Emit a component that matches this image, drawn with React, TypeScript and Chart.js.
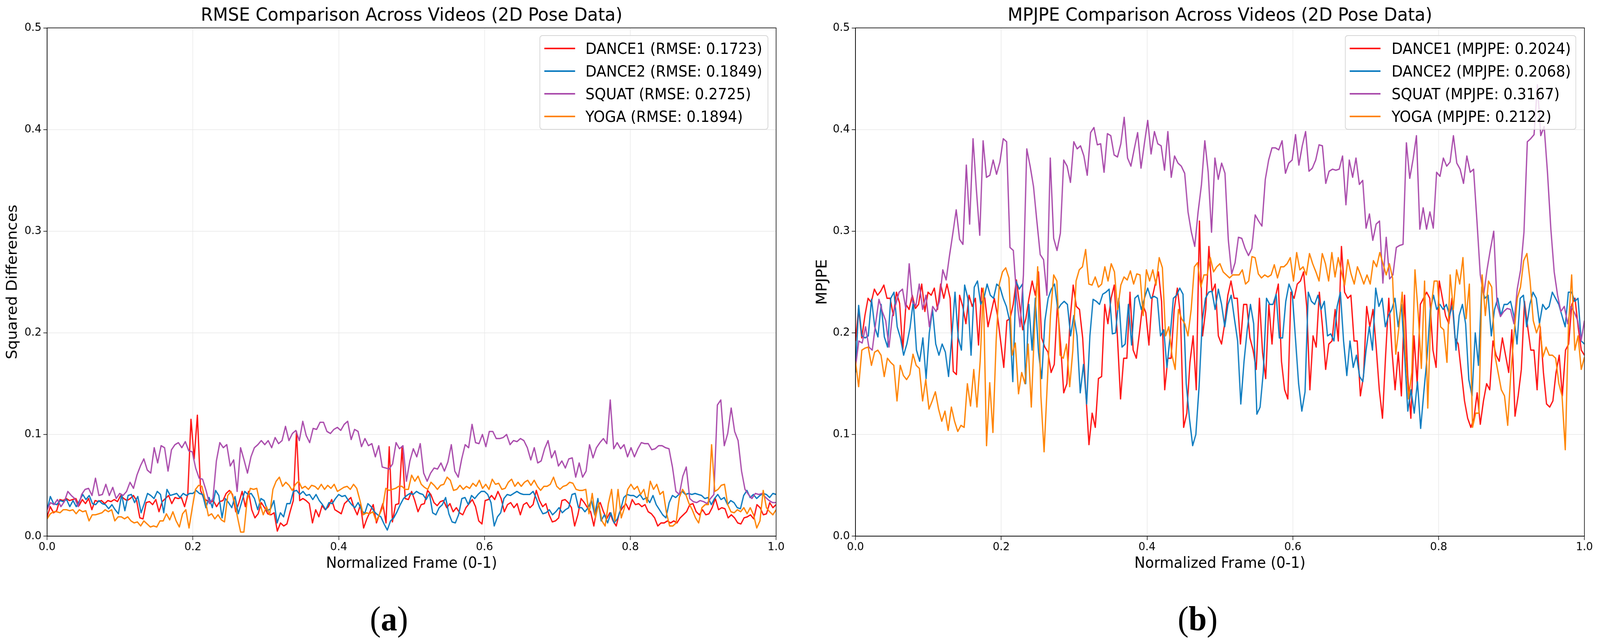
import { useEffect, useRef } from "react"
import { Chart, registerables, type Plugin } from "chart.js"

Chart.register(...registerables)

const FONT = '"DejaVu Sans", sans-serif'

const SERIES_NAMES = ["DANCE1", "DANCE2", "SQUAT", "YOGA"]
const SERIES_COLORS = ["#ff1010", "#0a7abf", "#a94aab", "#ff8200"]
const RMSE_SCORES = [0.1723, 0.1849, 0.2725, 0.1894]
const MPJPE_SCORES = [0.2024, 0.2068, 0.3167, 0.2122]

// (a) RMSE, squared differences per normalized frame
const RMSE_DANCE1 = [
  0.019,0.029,0.023,0.025,0.036,0.035,0.037,0.035,0.036,0.037,
  0.030,0.036,0.032,0.037,0.026,0.035,0.034,0.035,0.032,0.035,
  0.034,0.036,0.034,0.040,0.037,0.035,0.037,0.040,0.035,0.018,
  0.017,0.033,0.034,0.031,0.036,0.024,0.034,0.037,0.040,0.032,
  0.038,0.037,0.038,0.029,0.041,0.115,0.076,0.119,0.045,0.037,
  0.035,0.033,0.035,0.029,0.034,0.035,0.042,0.045,0.041,0.024,
  0.033,0.044,0.029,0.044,0.026,0.018,0.022,0.033,0.028,0.022,
  0.021,0.023,0.005,0.013,0.010,0.012,0.024,0.035,0.103,0.035,
  0.037,0.035,0.032,0.013,0.026,0.019,0.030,0.026,0.029,0.036,
  0.026,0.024,0.022,0.032,0.035,0.038,0.028,0.021,0.031,0.008,
  0.017,0.024,0.031,0.013,0.022,0.032,0.013,0.088,0.014,0.031,
  0.032,0.087,0.037,0.036,0.044,
  0.035,0.024,0.031,0.032,0.045,0.041,0.033,0.030,0.034,0.035,
  0.028,0.032,0.024,0.028,0.023,0.021,0.028,0.032,0.036,0.029,
  0.015,0.012,0.035,0.036,0.040,0.036,0.044,0.037,0.024,0.031,
  0.033,0.028,0.032,0.021,0.031,0.033,0.028,0.031,0.045,0.035,
  0.029,0.032,0.021,0.014,0.015,0.018,0.035,0.036,0.033,0.028,
  0.010,0.021,0.037,0.033,0.028,0.024,0.010,0.028,0.033,0.024,
  0.017,0.023,0.015,0.010,0.023,0.028,0.032,0.026,0.036,0.031,
  0.032,0.029,0.031,0.024,0.022,0.018,0.010,0.013,0.013,0.015,
  0.013,0.015,0.013,0.018,0.021,0.024,0.031,0.032,0.024,0.021,
  0.026,0.021,0.022,0.028,0.037,0.026,0.028,0.027,0.018,0.021,
  0.018,0.013,0.012,0.018,0.019,0.021,0.017,0.031,0.028,0.021,
  0.022,0.033,0.028,0.031,
]
const RMSE_DANCE2 = [
  0.026,0.039,0.032,0.031,0.035,0.034,0.036,0.029,0.035,0.029,
  0.035,0.041,0.036,0.040,0.032,0.031,0.035,0.032,0.031,0.027,
  0.031,0.026,0.022,0.041,0.025,0.040,0.041,0.033,0.039,0.023,
  0.032,0.042,0.040,0.037,0.044,0.041,0.023,0.046,0.040,0.041,
  0.042,0.038,0.042,0.040,0.042,0.042,0.045,0.042,0.041,0.028,
  0.038,0.028,0.045,0.040,0.018,0.037,0.033,0.028,0.039,0.022,
  0.033,0.044,0.041,0.042,0.037,0.026,0.037,0.035,0.025,0.027,
  0.035,0.013,0.023,0.019,0.032,0.032,0.044,0.045,0.041,0.044,
  0.040,0.041,0.036,0.041,0.035,0.031,0.026,0.033,0.032,0.037,
  0.041,0.039,0.040,0.035,0.031,0.028,0.033,0.026,0.022,0.032,
  0.029,0.024,0.021,0.019,0.012,0.006,0.015,0.018,0.024,0.031,
  0.037,0.040,
  0.042,0.041,0.044,0.042,0.041,0.036,0.042,0.023,0.021,0.028,
  0.031,0.038,0.022,0.014,0.013,0.021,0.037,0.038,0.031,0.040,
  0.037,0.041,0.044,0.044,0.041,0.033,0.010,0.019,0.023,0.037,
  0.041,0.040,0.042,0.044,0.042,0.041,0.041,0.041,0.044,0.037,
  0.028,0.022,0.023,0.026,0.021,0.024,0.028,0.023,0.026,0.028,
  0.041,0.042,0.028,0.028,0.024,0.028,0.035,0.021,0.037,0.015,
  0.021,0.013,0.023,0.013,0.017,0.026,0.038,0.041,0.040,0.040,
  0.038,0.041,0.036,0.038,0.033,0.040,0.031,0.026,0.021,0.018,
  0.033,0.040,0.038,0.041,0.044,0.041,0.042,0.041,0.042,0.041,
  0.040,0.037,0.038,0.031,0.037,0.041,0.036,0.038,0.031,0.035,
  0.033,0.028,0.027,0.040,0.045,0.038,0.041,0.037,0.040,0.042,
  0.041,0.038,0.042,0.041,
]
const RMSE_SQUAT = [
  0.026,0.033,0.031,0.036,0.029,0.034,0.044,0.040,0.037,0.029,
  0.041,0.046,0.047,0.040,0.057,0.040,0.041,0.051,0.040,0.048,
  0.037,0.042,0.040,0.044,0.053,0.047,0.060,0.069,0.076,0.065,
  0.062,0.087,0.072,0.089,0.087,0.064,0.085,0.090,0.092,0.087,
  0.093,0.084,0.083,0.067,0.057,0.056,0.045,0.032,0.037,0.074,
  0.092,0.087,0.090,0.069,0.075,0.044,0.087,0.075,0.062,0.078,
  0.087,0.090,0.094,0.090,0.094,0.087,0.097,0.091,0.094,0.108,
  0.094,0.101,0.104,0.094,0.113,0.099,0.092,0.106,0.105,0.112,
  0.112,0.103,0.101,0.105,0.107,0.104,0.110,0.113,0.095,0.105,
  0.103,0.088,0.096,0.089,0.091,0.078,0.089,0.068,0.067,0.066,
  0.071,0.092,0.086,0.089,
  0.054,0.074,0.086,0.078,0.091,0.062,0.054,0.062,0.067,0.066,
  0.072,0.064,0.073,0.090,0.064,0.058,0.076,0.090,0.087,0.110,
  0.092,0.091,0.100,0.088,0.103,0.103,0.096,0.096,0.097,0.100,
  0.090,0.094,0.093,0.096,0.094,0.087,0.075,0.087,0.072,0.074,
  0.086,0.094,0.077,0.084,0.069,0.074,0.067,0.076,0.077,0.058,
  0.072,0.058,0.064,0.090,0.077,0.087,0.092,0.096,0.091,0.134,
  0.086,0.092,0.086,0.090,0.078,0.087,0.078,0.086,0.092,0.091,
  0.091,0.085,0.086,0.089,0.089,0.087,0.086,0.068,0.044,0.041,
  0.059,0.068,0.037,0.034,0.033,0.035,0.034,0.032,0.037,0.041,
  0.129,0.134,0.089,0.101,0.126,0.103,0.094,0.064,0.046,0.041,
  0.037,0.042,0.041,0.042,0.038,0.035,0.033,0.033,
]
const RMSE_YOGA = [
  0.017,0.022,0.024,0.024,0.023,0.026,0.026,0.025,0.026,0.022,
  0.026,0.024,0.025,0.015,0.021,0.021,0.022,0.023,0.026,0.024,
  0.026,0.015,0.019,0.019,0.017,0.019,0.015,0.013,0.014,0.010,
  0.015,0.012,0.009,0.010,0.009,0.015,0.015,0.022,0.016,0.024,
  0.015,0.009,0.022,0.026,0.008,0.028,0.046,0.050,0.049,0.036,
  0.020,0.022,0.017,0.021,0.016,0.014,0.040,0.044,0.035,0.019,
  0.004,0.004,0.035,0.047,0.046,0.047,0.032,0.021,0.029,0.021,
  0.046,0.054,0.058,0.049,0.053,0.050,0.045,0.051,0.054,0.047,
  0.049,0.046,0.050,0.049,0.046,0.051,0.046,0.050,0.047,0.051,
  0.044,0.046,0.048,0.049,0.046,0.051,0.047,0.035,0.021,0.023,
  0.022,0.024,0.015,0.021,0.028,0.047,0.045,0.046,0.047,0.049,
  0.049,0.046,0.046,
  0.060,0.054,0.059,0.051,0.048,0.046,0.053,0.050,0.046,0.050,
  0.051,0.058,0.055,0.045,0.046,0.050,0.046,0.049,0.047,0.052,
  0.049,0.055,0.047,0.051,0.046,0.056,0.051,0.052,0.046,0.047,
  0.053,0.056,0.049,0.053,0.049,0.053,0.055,0.050,0.055,0.049,
  0.045,0.049,0.049,0.051,0.058,0.049,0.046,0.049,0.050,0.053,
  0.052,0.046,0.045,0.045,0.046,0.022,0.042,0.018,0.033,0.015,
  0.010,0.032,0.046,0.015,0.046,0.018,0.028,0.046,0.051,0.046,
  0.049,0.041,0.046,0.033,0.054,0.046,0.051,0.041,0.044,0.023,
  0.010,0.010,0.013,0.038,0.046,0.041,0.032,0.026,0.018,0.013,
  0.028,0.031,0.031,0.090,0.044,0.046,0.050,0.051,0.031,0.024,
  0.023,0.026,0.024,0.028,0.022,0.028,0.021,0.008,0.015,0.045,
  0.028,0.024,0.021,0.026,
]

// (b) MPJPE per normalized frame
const MPJPE_DANCE1 = [
  0.192,0.224,0.195,0.217,0.234,0.230,0.243,0.237,0.241,0.247,
  0.234,0.234,0.217,0.240,0.229,0.183,0.228,0.223,0.237,0.224,
  0.228,0.248,0.221,0.240,0.237,0.244,0.223,0.248,0.234,0.248,
  0.234,0.162,0.159,0.237,0.226,0.209,0.237,0.226,0.234,0.188,
  0.244,0.234,0.206,0.220,0.234,0.217,0.192,0.166,0.212,0.214,
  0.228,0.252,0.228,0.203,0.214,0.234,0.251,0.237,0.260,0.195,
  0.186,0.181,0.161,0.169,0.228,0.189,0.141,0.150,0.212,0.247,
  0.226,0.223,0.195,
  0.141,0.090,0.121,0.107,0.155,0.157,0.228,0.209,0.234,0.247,
  0.197,0.135,0.175,0.175,0.240,0.183,0.175,0.200,0.228,0.220,
  0.188,0.234,0.248,0.260,0.231,0.144,0.175,0.175,0.223,0.244,
  0.217,0.107,0.121,0.171,0.197,0.144,0.310,0.197,0.223,0.285,
  0.240,0.248,0.197,0.189,0.209,0.237,0.251,0.234,0.234,0.189,
  0.228,0.228,0.195,0.183,0.164,0.234,0.181,0.155,0.228,0.189,
  0.234,0.248,0.172,0.144,0.135,0.240,0.234,0.248,0.251,0.260,
  0.226,0.144,0.197,0.186,0.240,0.206,0.164,0.189,0.192,0.223,
  0.192,0.285,
  0.240,0.234,0.237,0.192,0.192,0.138,0.158,0.226,0.206,0.223,
  0.186,0.144,0.116,0.178,0.234,0.183,0.144,0.181,0.138,0.237,
  0.158,0.116,0.197,0.150,0.228,0.234,0.240,0.234,0.183,0.166,
  0.251,0.234,0.217,0.209,0.234,0.195,0.189,0.161,0.133,0.116,
  0.107,0.116,0.141,0.110,0.133,0.150,0.144,0.192,0.178,0.172,
  0.195,0.178,0.161,0.203,0.118,0.138,0.164,0.231,0.206,0.183,
  0.183,0.144,0.206,0.161,0.130,0.127,0.133,0.161,0.178,0.138,
  0.183,0.189,0.228,0.234,0.206,0.183,0.178,
]
const MPJPE_DANCE2 = [
  0.161,0.227,0.197,0.195,0.197,0.233,0.206,0.196,0.228,0.196,
  0.186,0.234,0.240,0.206,0.195,0.178,0.189,0.205,0.231,0.183,
  0.172,0.195,0.155,0.200,0.223,0.189,0.178,0.189,0.181,0.157,
  0.196,0.240,0.195,0.183,0.247,0.234,0.178,0.245,0.251,0.228,
  0.234,0.248,0.237,0.234,0.248,0.245,0.234,0.226,0.212,0.152,
  0.251,0.243,0.248,0.150,0.228,0.183,0.234,0.181,0.155,0.212,
  0.234,0.243,0.248,0.223,0.228,0.231,0.228,0.197,0.217,0.197,
  0.141,0.169,0.130,0.197,0.233,0.231,0.228,0.238,0.240,0.243,
  0.199,0.200,0.234,0.186,0.189,0.228,0.188,0.234,0.237,0.223,
  0.234,0.244,0.234,0.236,0.234,0.197,0.203,0.166,0.197,0.234,
  0.237,0.244,0.238,0.150,0.116,0.089,0.100,0.147,0.212,0.234,
  0.240,0.241,0.223,0.243,0.228,0.206,0.228,0.237,0.214,0.192,
  0.130,0.172,0.203,0.228,0.209,0.120,0.127,0.161,0.234,0.228,
  0.228,0.238,0.195,0.195,0.231,0.248,0.240,0.195,0.150,0.123,
  0.142,0.240,0.231,0.228,0.237,0.223,0.231,0.197,0.199,0.192,
  0.226,
  0.240,0.192,0.158,0.192,0.166,0.178,0.157,0.152,0.183,0.206,
  0.183,0.244,0.226,0.234,0.206,0.217,0.223,0.234,0.206,0.228,
  0.178,0.123,0.144,0.121,0.152,0.106,0.142,0.176,0.223,0.237,
  0.223,0.228,0.223,0.228,0.217,0.228,0.183,0.217,0.228,0.209,
  0.154,0.138,0.200,0.168,0.245,0.234,0.237,0.197,0.223,0.234,
  0.217,0.228,0.228,0.231,0.217,0.189,0.234,0.237,0.206,0.228,
  0.240,0.234,0.209,0.228,0.223,0.226,0.240,0.234,0.228,0.217,
  0.206,0.240,0.240,0.231,0.234,0.192,0.189,
]
const MPJPE_SQUAT = [
  0.166,0.192,0.190,0.206,0.186,0.183,0.209,0.233,0.221,0.212,
  0.186,0.217,0.228,0.240,0.243,0.224,0.268,0.230,0.227,0.248,
  0.223,0.237,0.206,0.226,0.221,0.231,0.262,0.252,0.276,0.298,
  0.321,0.292,0.287,0.365,0.307,0.391,0.341,0.296,0.389,0.353,
  0.355,0.370,0.356,0.368,0.391,0.388,0.284,0.281,0.234,0.206,
  0.257,0.381,0.364,0.344,0.310,0.277,0.272,0.237,0.372,0.293,
  0.281,0.298,0.370,0.364,0.348,0.388,0.381,
  0.384,0.374,0.355,0.397,0.402,0.385,0.386,0.358,0.396,0.394,
  0.375,0.373,0.386,0.412,0.372,0.364,0.381,0.397,0.362,0.386,
  0.409,0.376,0.398,0.386,0.384,0.360,0.398,0.353,0.374,0.367,
  0.364,0.357,0.319,0.299,0.285,0.319,0.346,0.389,0.358,0.299,
  0.372,0.351,0.367,0.357,0.291,0.258,0.269,0.294,0.293,0.283,
  0.276,0.283,0.316,0.310,0.305,0.351,0.370,0.382,0.382,0.380,
  0.389,0.357,0.367,0.370,0.395,0.365,0.384,0.398,0.359,0.362,
  0.370,0.385,0.384,0.347,0.359,0.361,
  0.360,0.361,0.374,0.326,0.370,0.353,0.372,0.346,0.350,0.303,
  0.317,0.291,0.307,0.310,0.249,0.294,0.253,0.257,0.284,0.286,
  0.287,0.387,0.352,0.371,0.394,0.302,0.323,0.302,0.319,0.303,
  0.358,0.354,0.372,0.364,0.368,0.394,0.367,0.361,0.347,0.374,
  0.358,0.361,0.310,0.257,0.237,0.262,0.282,0.300,0.228,0.216,
  0.221,0.224,0.223,0.209,0.243,0.262,0.299,0.388,0.391,0.395,
  0.444,0.394,0.403,0.358,0.302,0.260,0.237,0.221,0.226,0.209,
  0.226,0.220,0.212,0.192,0.212,
]
const MPJPE_YOGA = [
  0.172,0.147,0.183,0.185,0.186,0.168,0.181,0.183,0.178,0.157,
  0.175,0.171,0.168,0.133,0.168,0.158,0.154,0.159,0.179,0.168,
  0.165,0.133,0.154,0.125,0.133,0.142,0.125,0.113,0.123,0.104,
  0.127,0.113,0.103,0.109,0.107,0.150,0.128,0.164,0.127,0.172,
  0.244,0.089,0.151,0.102,0.192,0.248,0.260,0.264,0.254,0.178,
  0.190,0.140,0.161,0.150,0.189,0.127,0.206,0.265,0.138,0.083,
  0.150,0.217,0.257,0.251,0.178,0.175,0.189,0.147,0.183,0.251,
  0.262,
  0.265,0.282,0.248,0.247,0.255,0.245,0.248,0.265,0.251,0.268,
  0.260,0.223,0.247,0.255,0.252,0.261,0.248,0.258,0.257,0.217,
  0.262,0.251,0.262,0.247,0.274,0.264,0.197,0.206,0.178,0.164,
  0.223,0.214,0.209,0.197,0.223,0.265,0.269,0.245,0.257,0.257,
  0.274,0.260,0.265,0.268,0.260,0.257,0.254,0.257,0.257,0.257,
  0.262,0.248,0.251,0.275,0.274,0.258,0.254,0.257,0.255,0.257,
  0.267,0.254,0.265,0.265,0.268,0.274,0.251,0.279,0.262,0.265,
  0.257,0.278,0.268,0.260,0.251,0.278,0.268,0.251,0.279,0.255,
  0.274,
  0.260,0.247,0.272,0.258,0.248,0.265,0.257,0.248,0.257,0.248,
  0.271,0.265,0.279,0.268,0.257,0.268,0.254,0.179,0.206,0.240,
  0.181,0.135,0.161,0.262,0.219,0.165,0.251,0.126,0.223,0.251,
  0.251,0.206,0.203,0.171,0.257,0.223,0.262,0.248,0.274,0.214,
  0.248,0.107,0.121,0.121,0.257,0.217,0.251,0.245,0.178,0.161,
  0.144,0.138,0.109,0.161,0.200,0.234,0.245,0.271,0.278,0.251,
  0.212,0.200,0.209,0.176,0.186,0.178,0.178,0.175,0.150,0.138,
  0.085,0.206,0.257,0.183,0.197,0.164,0.176,
]

// figure and plot area geometry shared by both panels (px)
const FIG_W = 4315
const FIG_H = 1648
const CANVAS_H = 1480
const AXIS_W = 127
const PLOT_W = 1966
const X_AXIS_H = 108

type PanelProps = {
  left: number
  width: number
  title: string
  yLabel: string
  yTitlePad: number
  series: number[][]
}

function Panel({ left, width, title, yLabel, yTitlePad, series }: PanelProps) {
  const canvasRef = useRef<HTMLCanvasElement>(null)

  useEffect(() => {
    if (!canvasRef.current) return

    // matplotlib-like box around the axes
    const frame: Plugin = {
      id: "frame",
      afterDatasetsDraw(chart) {
        const { ctx, chartArea: a } = chart
        ctx.save()
        ctx.strokeStyle = "#000"
        ctx.lineWidth = 1.6
        ctx.strokeRect(a.left, a.top, a.right - a.left, a.bottom - a.top)
        ctx.restore()
      },
    }

    const tickFont = { family: FONT, size: 29 }
    const labelFont = { family: FONT, size: 39 }

    const chart = new Chart(canvasRef.current, {
      type: "line",
      data: {
        datasets: series.map((ys, i) => ({
          label: SERIES_NAMES[i],
          data: ys.map((y, j) => ({ x: j / (ys.length - 1), y })),
          borderColor: SERIES_COLORS[i],
          backgroundColor: SERIES_COLORS[i],
          borderWidth: 3.4,
          borderJoinStyle: "round" as const,
          pointRadius: 0,
          tension: 0,
          order: series.length - i,
        })),
      },
      options: {
        responsive: false,
        animation: false,
        devicePixelRatio: 1,
        layout: { padding: { left: 0, top: 0, bottom: 0, right: width - AXIS_W - PLOT_W } },
        plugins: {
          legend: { display: false },
          tooltip: { enabled: false },
          title: {
            display: true,
            fullSize: false, // centre over the plot, like matplotlib
            text: title,
            color: "#000",
            font: { family: FONT, size: 47, weight: "normal" },
            padding: { top: 13, bottom: 2 },
          },
        },
        scales: {
          x: {
            type: "linear",
            min: 0,
            max: 1,
            afterFit: (s) => { s.height = X_AXIS_H },
            ticks: { stepSize: 0.2, color: "#000", font: tickFont, padding: 1, maxRotation: 0,
              callback: (v) => Number(v).toFixed(1) },
            grid: { color: "#e8e8e8", lineWidth: 1.5, tickColor: "#000", tickLength: 10, tickWidth: 1.5 },
            border: { color: "#000", width: 1.6 },
            title: { display: true, text: "Normalized Frame (0-1)", color: "#000", font: labelFont,
              padding: { top: 0, bottom: 14 } },
          },
          y: {
            min: 0,
            max: 0.5,
            afterFit: (s) => { s.width = AXIS_W },
            ticks: { stepSize: 0.1, color: "#000", font: tickFont, padding: 5,
              callback: (v) => Number(v).toFixed(1) },
            grid: { color: "#e8e8e8", lineWidth: 1.5, tickColor: "#000", tickLength: 10, tickWidth: 1.5 },
            border: { color: "#000", width: 1.6 },
            title: { display: true, text: yLabel, color: "#000", font: labelFont,
              padding: { top: yTitlePad, bottom: 0 } },
          },
        },
      },
      plugins: [frame],
    })
    return () => { chart.destroy() }
  }, [title, yLabel, yTitlePad, series, width])

  return (
    <canvas
      ref={canvasRef}
      width={width}
      height={CANVAS_H}
      style={{ position: "absolute", left, top: 0, width, height: CANVAS_H }}
    />
  )
}

function Legend({ left, width, metric, scores, textGap }: { left: number; width: number; metric: string; scores: number[]; textGap: number }) {
  return (
    <div style={{
      position: "absolute", left, top: 90, width, height: 242, boxSizing: "border-box",
      border: "2px solid #d6d6d6", borderRadius: 8, background: "rgba(255,255,255,0.8)",
      paddingTop: 3, fontFamily: FONT, fontSize: 39, color: "#000",
    }}>
      {SERIES_NAMES.map((name, i) => (
        <div key={name} style={{ display: "flex", alignItems: "center", height: 58 }}>
          <span style={{ marginLeft: 11, width: 83, height: 3.4, background: SERIES_COLORS[i], flex: "none" }} />
          <span style={{ marginLeft: textGap, whiteSpace: "nowrap" }}>
            {`${name} (${metric}: ${scores[i].toFixed(4)})`}
          </span>
        </div>
      ))}
    </div>
  )
}

function Caption({ center, letter }: { center: number; letter: string }) {
  return (
    <div style={{
      position: "absolute", left: center - 90, width: 180, top: 1540, textAlign: "center",
      fontFamily: '"Liberation Serif", serif', fontSize: 88, lineHeight: "88px", color: "#000",
    }}>
      (<b>{letter}</b>)
    </div>
  )
}

export default function App() {
  // fit the figure into the viewport if the viewport is smaller than the figure
  const vw = typeof window !== "undefined" && window.innerWidth ? window.innerWidth : FIG_W
  const vh = typeof window !== "undefined" && window.innerHeight ? window.innerHeight : FIG_H
  const sx = Math.min(1, vw / FIG_W)
  const sy = Math.min(1, vh / FIG_H)

  return (
    <div style={{
      position: "absolute", left: 0, top: 0, width: FIG_W, height: FIG_H, background: "#fff", overflow: "hidden",
      transform: sx < 1 || sy < 1 ? `scale(${sx}, ${sy})` : undefined, transformOrigin: "0 0",
    }}>
      <Panel
        left={0}
        width={2180}
        title="RMSE Comparison Across Videos (2D Pose Data)"
        yLabel="Squared Differences"
        yTitlePad={11}
        series={[RMSE_DANCE1, RMSE_DANCE2, RMSE_SQUAT, RMSE_YOGA]}
      />
      <Panel
        left={2180}
        width={2135}
        title="MPJPE Comparison Across Videos (2D Pose Data)"
        yLabel="MPJPE"
        yTitlePad={15}
        series={[MPJPE_DANCE1, MPJPE_DANCE2, MPJPE_SQUAT, MPJPE_YOGA]}
      />
      <Legend left={1455} width={617} metric="RMSE" scores={RMSE_SCORES} textGap={28} />
      <Legend left={3627} width={624} metric="MPJPE" scores={MPJPE_SCORES} textGap={30} />
      <Caption center={1049} letter="a" />
      <Caption center={3230} letter="b" />
    </div>
  )
}
